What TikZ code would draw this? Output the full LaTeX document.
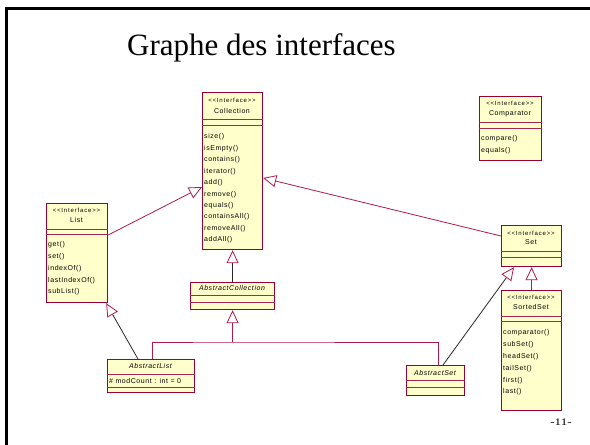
\documentclass[tikz,border=0pt]{standalone}
\usepackage{fontspec}
\setmainfont{Liberation Serif}
\newfontfamily\umlfont[LetterSpace=8,Ligatures=TeXOff]{Liberation Sans}
\newfontfamily\stereofont[LetterSpace=14,Ligatures=TeXOff]{Liberation Sans}
\usetikzlibrary{arrows.meta, positioning}

\definecolor{umlborder}{RGB}{153,0,51}
\definecolor{umlfill}{RGB}{255,255,204}
\definecolor{umlline}{RGB}{175,25,75}

\tikzset{
    classbox/.style={draw=umlborder, fill=umlfill, line width=1.2pt, anchor=north west, inner sep=0pt},
    divider/.style={draw=umlborder!85, line width=1pt},
    stereo/.style={font=\stereofont\fontsize{6}{7}\selectfont, inner sep=0pt},
    cname/.style={font=\umlfont\fontsize{7}{8}\selectfont, inner sep=0pt},
    aname/.style={font=\umlfont\itshape\fontsize{7}{8}\selectfont, inner sep=0pt},
    op/.style={font=\umlfont\fontsize{7}{8}\selectfont, inner sep=0pt, anchor=west},
    gen/.style={draw=umlline, line width=0.8pt, -{Triangle[fill=white, length=13pt, width=12pt]}},
    impl/.style={draw=black!85, line width=0.8pt, -{Triangle[color=umlline, fill=white, length=13pt, width=12pt]}},
    genline/.style={draw=umlline, line width=0.8pt}
}

\begin{document}
\begin{tikzpicture}[x=1pt, y=-1pt]
    \useasboundingbox (0,0) rectangle (590,445);
    % slide frame and texts
    \draw[line width=2.4pt] (6.5,445) -- (6.5,8.5) -- (590,8.5);
    \node[font=\fontsize{31}{34}\selectfont, anchor=base] (title) at (261.5,55) {Graphe des interfaces};
    \node[font=\fontsize{10}{12}\selectfont, anchor=base, xscale=1.3] (pagenum) at (561,425) {-11-};

    % Collection
    \node[classbox, minimum width=60pt, minimum height=157pt] (coll) at (202,92) {};
    \draw[divider] (coll.west |- 0,119) -- (coll.east |- 0,119);
    \draw[divider] (coll.west |- 0,125) -- (coll.east |- 0,125);
    \node[stereo] (coll-st) at (232,100) {<<Interface>>};
    \node[cname] (coll-nm) at (232,111) {Collection};
    \foreach \m [count=\i from 0] in {size(), isEmpty(), contains(), iterator(), add(), remove(), equals(), containsAll(), removeAll(), addAll()}
        \node[op] (coll-op\i) at (204,137+11.45*\i) {\m};

    % Comparator
    \node[classbox, minimum width=62pt, minimum height=64pt] (comp) at (479,96) {};
    \draw[divider] (comp.west |- 0,122) -- (comp.east |- 0,122);
    \draw[divider] (comp.west |- 0,128) -- (comp.east |- 0,128);
    \node[stereo] (comp-st) at (510,103) {<<Interface>>};
    \node[cname] (comp-nm) at (510,114) {Comparator};
    \foreach \m [count=\i from 0] in {compare(), equals()}
        \node[op] (comp-op\i) at (481,139+12*\i) {\m};

    % List
    \node[classbox, minimum width=61pt, minimum height=99pt] (list) at (46,203) {};
    \draw[divider] (list.west |- 0,229) -- (list.east |- 0,229);
    \draw[divider] (list.west |- 0,234) -- (list.east |- 0,234);
    \node[stereo] (list-st) at (76.5,210) {<<Interface>>};
    \node[cname] (list-nm) at (76.5,220) {List};
    \foreach \m [count=\i from 0] in {get(), set(), indexOf(), lastIndexOf(), subList()}
        \node[op] (list-op\i) at (48,245+11.75*\i) {\m};

    % Set
    \node[classbox, minimum width=60pt, minimum height=41pt] (set) at (501,225) {};
    \draw[divider] (set.west |- 0,251) -- (set.east |- 0,251);
    \draw[divider] (set.west |- 0,257) -- (set.east |- 0,257);
    \node[stereo] (set-st) at (531,233) {<<Interface>>};
    \node[cname] (set-nm) at (531,242) {Set};

    % SortedSet
    \node[classbox, minimum width=60pt, minimum height=120pt] (sset) at (501,290) {};
    \draw[divider] (sset.west |- 0,316) -- (sset.east |- 0,316);
    \draw[divider] (sset.west |- 0,321) -- (sset.east |- 0,321);
    \node[stereo] (sset-st) at (531,297) {<<Interface>>};
    \node[cname] (sset-nm) at (531,307) {SortedSet};
    \foreach \m [count=\i from 0] in {comparator(), subSet(), headSet(), tailSet(), first(), last()}
        \node[op] (sset-op\i) at (503,333+11.8*\i) {\m};

    % AbstractCollection
    \node[classbox, minimum width=84pt, minimum height=27pt] (acoll) at (190,282) {};
    \draw[divider] (acoll.west |- 0,295) -- (acoll.east |- 0,295);
    \draw[divider] (acoll.west |- 0,302) -- (acoll.east |- 0,302);
    \node[aname] (acoll-nm) at (232,288) {AbstractCollection};

    % AbstractList
    \node[classbox, minimum width=87pt, minimum height=33pt] (alist) at (107,359) {};
    \draw[divider] (alist.west |- 0,374) -- (alist.east |- 0,374);
    \draw[divider] (alist.west |- 0,387) -- (alist.east |- 0,387);
    \node[aname] (alist-nm) at (150.5,366) {AbstractList};
    \node[op] (alist-at) at (109,380.5) {\# modCount : int = 0};

    % AbstractSet
    \node[classbox, minimum width=58pt, minimum height=30pt] (aset) at (406,365) {};
    \draw[divider] (aset.west |- 0,380) -- (aset.east |- 0,380);
    \draw[divider] (aset.west |- 0,387) -- (aset.east |- 0,387);
    \node[aname] (aset-nm) at (435,373) {AbstractSet};

    % inheritance
    \draw[gen] ([yshift=-32pt]list.north east) -- ([yshift=-95pt]coll.north west);
    \draw[gen] ([yshift=-11pt]set.north west) -- ([yshift=-86pt]coll.north east);
    \draw[impl] (acoll.north) -- (coll.south);
    \draw[gen] (sset.north) -- (sset.north |- set.south);
    \coordinate (junc) at (acoll.south |- 0,342);
    \draw[genline] ([xshift=45pt]alist.north west) |- (junc) -| ([xshift=32pt]aset.north west);
    \draw[gen] (junc) -- (acoll.south);
    \draw[impl] ([xshift=31pt]alist.north west) -- ([xshift=-2pt]list.south east);
    \draw[impl] ([xshift=37pt]aset.north west) -- ([xshift=13pt]set.south west);
\end{tikzpicture}
\end{document}
